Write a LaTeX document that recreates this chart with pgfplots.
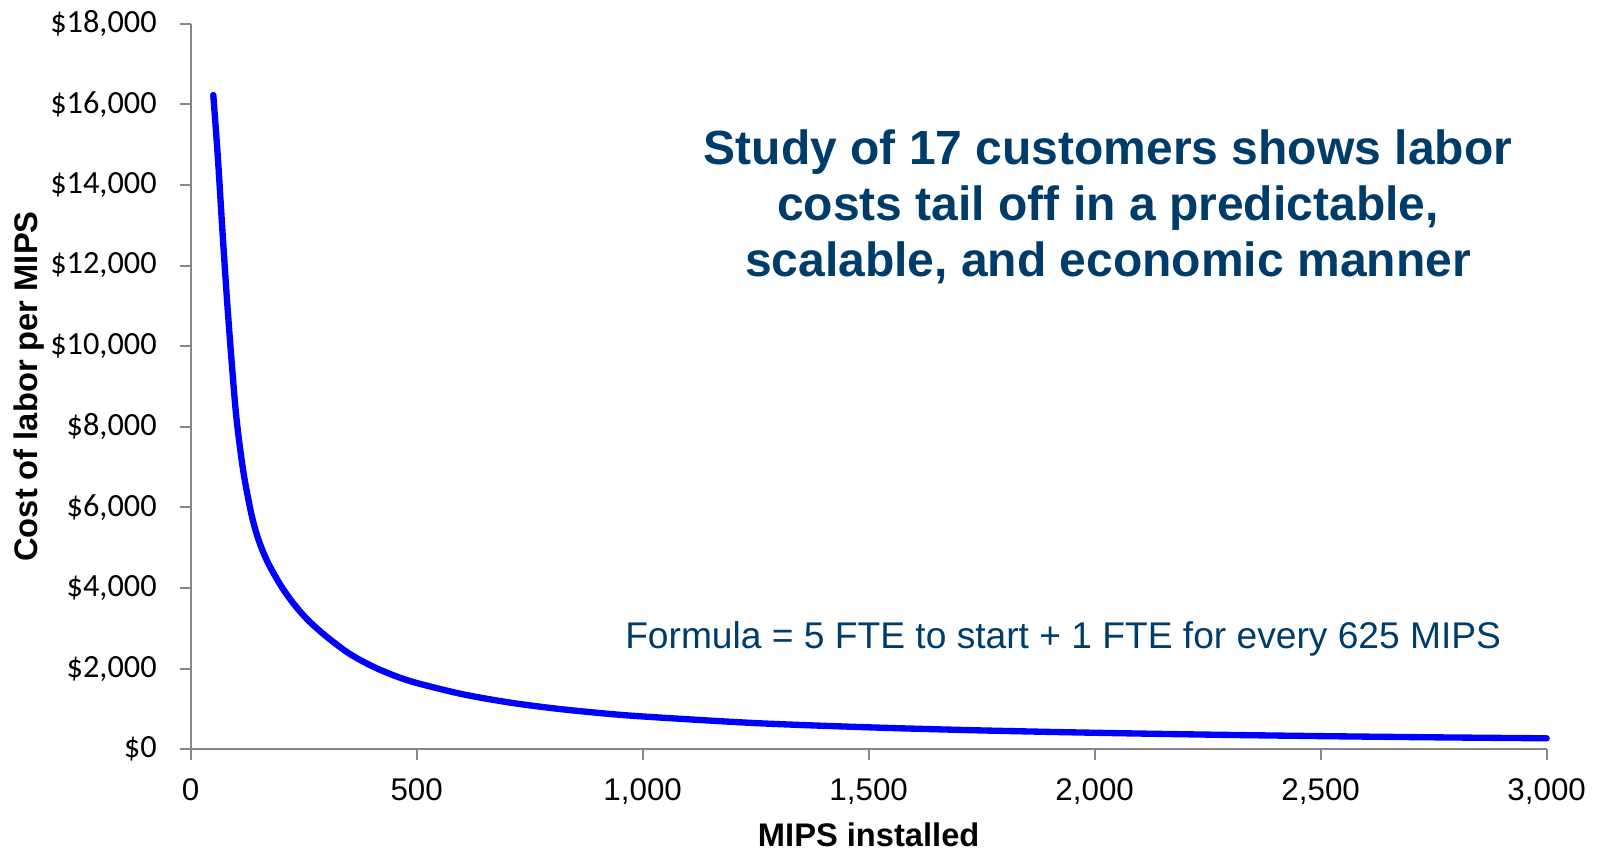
\documentclass[border=0pt]{standalone}
\usepackage{fontspec}
\setmainfont{Liberation Sans}
\newfontfamily\carlito{Carlito}
\usepackage{pgfplots}
\pgfplotsset{compat=1.18}
\definecolor{titleblue}{RGB}{0,60,106}
\definecolor{axisgray}{RGB}{134,134,134}
\begin{document}
\begin{tikzpicture}
\path[use as bounding box] (-57.21pt,-29.91pt) rectangle (423.09pt,224.79pt);
\begin{axis}[
  at={(0,0)}, anchor=south west,
  scale only axis,
  width=406.8pt, height=217.68pt,
  xmin=0, xmax=3000, ymin=0, ymax=18000,
  scaled x ticks=false, scaled y ticks=false,
  axis x line*=bottom, axis y line*=left,
  axis line style={draw=axisgray, line width=0.6pt},
  tick style={draw=axisgray, line width=0.6pt},
  tick align=outside,
  major tick length=3.2pt,
  xtick={0,500,1000,1500,2000,2500,3000},
  xticklabels={0,500,{1,000},{1,500},{2,000},{2,500},{3,000}},
  ytick={0,2000,4000,6000,8000,10000,12000,14000,16000,18000},
  yticklabels={{\$0},{\$2,000},{\$4,000},{\$6,000},{\$8,000},{\$10,000},{\$12,000},{\$14,000},{\$16,000},{\$18,000}},
  xticklabel style={font=\fontsize{9.4pt}{11pt}\selectfont, anchor=north, inner sep=0pt, yshift=-5.4pt},
  yticklabel style={font=\carlito\fontsize{9.7pt}{11pt}\selectfont, anchor=east, inner sep=0pt, xshift=-6.8pt},
  xlabel={MIPS installed},
  ylabel={Cost of labor per MIPS},
  xlabel style={font=\bfseries\fontsize{9.8pt}{11pt}\selectfont, at={(axis description cs:0.5,-0.134)}, anchor=base, inner sep=0pt},
  ylabel style={font=\bfseries\fontsize{9.8pt}{11pt}\selectfont, at={(axis description cs:-0.11276,0.5)}, anchor=base, inner sep=0pt},
  clip=false,
]
\addplot[color=blue, line width=1.9pt, line cap=round, line join=round, smooth] coordinates {
  (50,16230) (60,14700) (70,12900) (80,11200) (90,9700) (100,8350)
  (110,7400) (120,6650) (135,5800) (150,5200) (170,4650) (200,4050)
  (230,3580) (260,3200) (300,2800) (350,2380) (400,2070) (450,1830)
  (500,1645) (600,1370) (700,1170) (800,1020) (900,905) (1000,815)
  (1250,650) (1500,545) (1750,468) (2000,410) (2250,364) (2500,327)
  (2750,297) (3000,273)
};
\node[font=\bfseries\fontsize{14.4pt}{17pt}\selectfont, text=titleblue, anchor=base, inner sep=0pt] at (axis cs:2029.4,14495) {Study of 17 customers shows labor};
\node[font=\bfseries\fontsize{14.4pt}{17pt}\selectfont, text=titleblue, anchor=base, inner sep=0pt] at (axis cs:2029.4,13130) {costs tail off in a predictable,};
\node[font=\bfseries\fontsize{14.4pt}{17pt}\selectfont, text=titleblue, anchor=base, inner sep=0pt] at (axis cs:2029.4,11724) {scalable, and economic manner};
\node[font=\fontsize{11.15pt}{13pt}\selectfont, text=titleblue, anchor=base west, inner sep=0pt] at (axis cs:960,2505.5) {Formula = 5 FTE to start + 1 FTE for every 625 MIPS};
\end{axis}
\end{tikzpicture}
\end{document}
